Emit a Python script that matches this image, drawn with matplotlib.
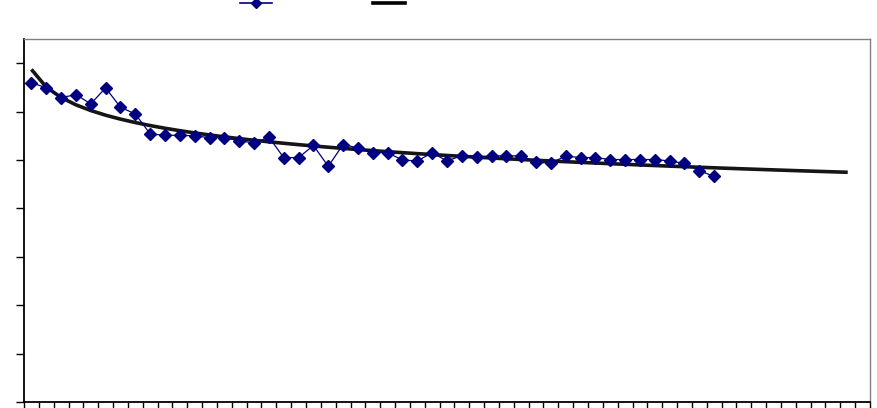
import numpy as np
import matplotlib
matplotlib.use("Agg")
import matplotlib.pyplot as plt
from matplotlib.lines import Line2D

# ---- data ----
n_categories = 57
observed = [6.60, 6.49, 6.29, 6.35, 6.16, 6.49, 6.09, 5.95, 5.54, 5.51,
            5.51, 5.50, 5.46, 5.46, 5.40, 5.35, 5.47, 5.05, 5.05, 5.30,
            4.87, 5.32, 5.25, 5.15, 5.15, 5.00, 4.98, 5.15, 4.98, 5.09,
            5.07, 5.08, 5.09, 5.08, 4.95, 4.94, 5.08, 5.05, 5.05, 5.01,
            5.01, 5.01, 5.01, 4.98, 4.93, 4.78, 4.66]
trend_periods = 56          # logarithmic trendline with forward forecast
y_ticks = [0, 1, 2, 3, 4, 5, 6, 7]
y_max = 7.5

# ---- figure ----
W, H, DPI = 878, 408, 100
fig = plt.figure(figsize=(W / DPI, H / DPI), dpi=DPI)
left, right, top, bottom = 24, 870, 39, 402
ax = fig.add_axes([left / W, (H - bottom) / H, (right - left) / W, (bottom - top) / H])

x_obs = np.arange(1, len(observed) + 1)
x_tr = np.arange(1, trend_periods + 1)
coef = np.polyfit(np.log(x_obs), np.array(observed), 1)
trend = coef[0] * np.log(x_tr) + coef[1]

ax.plot(x_tr, trend, color="#151515", lw=2.6, solid_capstyle="butt", zorder=2)
ax.plot(x_obs, observed, color="#000080", lw=0.9, marker="D", markersize=6,
        markerfacecolor="#000080", markeredgecolor="#000080", zorder=3)

ax.set_xlim(0.5, n_categories + 0.5)
ax.set_ylim(0, y_max)
ax.set_yticks(y_ticks)
ax.set_xticks(np.arange(0.5, n_categories + 1, 1))
ax.set_yticklabels([])
ax.set_xticklabels([])
ax.tick_params(axis="y", direction="out", length=6, width=1, color="black")
ax.tick_params(axis="x", direction="out", length=7, width=1, color="black")

for s in ("left", "bottom"):
    ax.spines[s].set_color("black")
    ax.spines[s].set_linewidth(1.3)
for s in ("top", "right"):
    ax.spines[s].set_color("#808080")
    ax.spines[s].set_linewidth(1.0)

# legend (text-less, as in the reference)
h1 = Line2D([], [], color="#000080", lw=1.2, marker="D", markersize=5,
            markerfacecolor="#000080")
h2 = Line2D([], [], color="black", lw=2.6)
fig.legend([h1, h2], ["", ""], loc="upper left",
           bbox_to_anchor=(240 / W, 1 + 3 / H), ncol=2, frameon=False,
           borderpad=0, borderaxespad=0, handlelength=2.3,
           handletextpad=0.4, columnspacing=6.9, fontsize=10)

fig.savefig("out.png", dpi=DPI)
